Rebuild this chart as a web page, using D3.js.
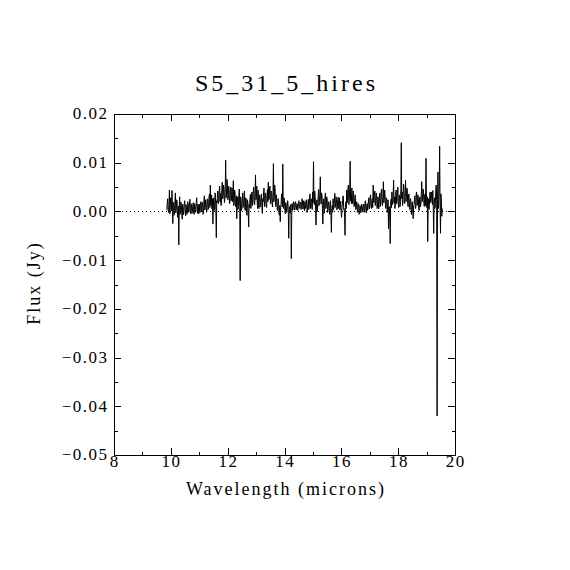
<!DOCTYPE html>
<html>
<head>
<meta charset="utf-8">
<script src="https://cdn.jsdelivr.net/npm/d3@7/dist/d3.min.js"></script>
<style>
  html, body { margin: 0; padding: 0; background: #fff; }
  svg { display: block; }
  text { font-family: "Liberation Serif", "DejaVu Serif", serif; fill: #000; }
</style>
</head>
<body>
<svg id="chart" width="570" height="570"></svg>
<script>
// ---- data ----
const titleText = "S5_31_5_hires";
const xLabel = "Wavelength (microns)";
const yLabel = "Flux (Jy)";
const xDomain = [8, 20];
const yDomain = [-0.05, 0.02];
const xTicks = [8, 10, 12, 14, 16, 18, 20];
const xMinorTicks = [9, 11, 13, 15, 17, 19];
const yTicks = [-0.05, -0.04, -0.03, -0.02, -0.01, 0.00, 0.01, 0.02];
const yMinorTicks = [-0.045, -0.035, -0.025, -0.015, -0.005, 0.005, 0.015];
const yTickLabels = ["\u22120.05", "\u22120.04", "\u22120.03", "\u22120.02", "\u22120.01", "0.00", "0.01", "0.02"];
// spectrum sampled on a uniform wavelength grid
const waveStart = 9.86;
const waveStep = 0.015;
// flux in mJy
const fluxMilliJy = [
  0.3, 1.8, 2.6, 0.4, -0.2, 1.2, 4.4, -0.5, 1.0, 2.8, 2.0, 0.1, 4.3, 0.6, -2.5, 1.9, 1.5, -0.8, 0.2, 2.1,
  3.8, -0.3, 0.5, 2.4, 2.0, -1.2, -0.8, 1.1, -6.9, 0.5, 3.0, -0.6, 0.2, 1.9, 1.2, -0.4, -1.6, 1.5, 1.0, -0.7,
  0.4, 1.7, 2.2, -0.1, -0.9, 1.4, 0.8, -0.6, -0.3, 2.0, 1.6, -0.2, 0.1, 1.3, 2.5, 0.0, -0.5, 1.6, 0.9, -0.4,
  0.0, 1.4, 1.8, -0.3, -0.6, 1.6, 1.1, -0.2, 0.3, 1.9, 2.8, 0.2, -0.4, 1.5, 0.7, -0.5, 1.5, 0.1, -0.2, 1.8,
  2.0, -0.1, 0.4, 1.9, 1.3, -0.6, -0.3, 2.2, 3.2, 0.3, 0.8, 2.4, 1.9, -0.2, 0.2, 2.6, 2.5, 0.4, 1.0, 3.0,
  3.6, 0.8, 5.4, 1.5, 1.2, 3.4, 0.5, 2.6, -2.6, 1.0, 2.8, 0.2, 0.9, 3.8, 3.4, 0.1, -5.4, 2.2, 1.8, 4.2,
  4.0, 1.6, 2.2, 4.6, 5.2, 2.0, 3.7, 1.2, 1.5, 4.4, 6.0, 2.6, 3.0, 5.4, 4.8, 1.8, 2.5, 5.0, 10.5, 2.8,
  3.5, 6.6, 5.8, 2.4, 2.8, 5.2, 4.5, 1.6, 1.9, 4.0, 5.0, 2.2, 3.2, 4.8, 2.0, 3.9, 6.3, 1.2, 1.8, 4.4,
  3.9, 1.4, 0.9, 3.2, -1.5, 2.0, 3.0, 0.4, 1.2, 3.6, 4.6, 1.0, -14.2, 3.0, 2.4, 0.2, 0.6, 2.8, 3.8, 0.8,
  1.0, 3.0, 4.2, 0.5, 0.2, 2.8, 2.6, -0.2, -0.8, 2.4, 1.9, -0.5, -3.2, 1.4, 0.8, 2.6, 3.5, 0.6, 1.5, 3.8,
  4.0, 1.2, 2.2, 4.4, 5.0, 1.8, 1.4, 3.6, 7.5, 2.4, 3.0, 5.2, 1.8, 0.6, 4.4, 2.0, 0.6, 3.4, 2.8, 0.9,
  1.2, 3.2, 3.6, 0.8, -0.4, 2.6, 2.0, 4.0, 4.8, 1.0, 1.5, 3.8, 3.2, 0.9, 0.8, 3.4, 4.5, 2.0, 6.0, 2.4,
  2.5, 4.8, 5.2, 1.6, 1.8, 4.2, 3.8, 1.4, 0.9, 3.6, 9.8, 2.0, 3.0, 5.4, 4.6, 1.0, 1.2, 3.4, 2.4, 0.2,
  0.4, 2.6, 2.0, -0.4, -0.8, 1.2, -2.1, 0.8, 1.5, 3.6, 3.2, 0.9, 9.7, 1.4, 0.6, 2.8, 2.2, 0.0, -0.5, 1.8,
  1.4, -0.2, 0.2, 2.2, 2.0, -0.6, -5.5, 0.8, 1.0, -0.4, 0.3, 1.5, -9.7, -0.8, 1.6, 0.2, 0.5, 2.0, 1.8, 0.3,
  0.8, 1.8, 2.0, 0.3, 0.4, 1.6, 1.5, 0.2, 0.9, 2.0, 2.2, 0.7, 0.6, 1.9, 1.7, 0.4, 1.0, 2.6, 2.4, 0.5,
  0.5, 2.2, 1.3, 0.1, 2.0, 0.6, 0.8, 2.4, 1.6, -0.2, 0.2, 1.8, 2.5, 0.4, 1.1, 3.0, 3.6, 0.6, 0.7, 2.6,
  2.2, 0.4, 4.0, 1.8, 10.2, 2.6, 1.4, 4.2, 3.0, 0.2, -2.8, 1.6, 2.4, 0.0, 1.0, 3.2, 4.5, 1.2, 2.0, 4.0,
  7.1, 2.2, 1.5, 3.8, 3.3, 0.6, -2.6, 1.4, 2.6, -0.4, 0.4, 2.8, 3.8, 0.6, 1.2, 3.0, 2.6, -0.2, 0.2, 2.0,
  1.8, 0.2, -0.6, 1.6, 2.2, -0.8, -4.3, 0.6, 1.2, -0.2, 2.6, 0.4, 0.8, 2.2, 3.7, 0.8, 1.6, 3.0, 2.4, 0.3,
  0.9, 2.4, 2.9, 0.6, 1.4, 2.8, 0.3, 1.6, 2.1, -0.4, -1.2, 1.0, 1.5, 3.2, 3.0, 0.4, 0.6, -1.0, -4.9, 0.8,
  2.0, 0.6, 4.4, 1.8, 3.0, 5.0, 5.4, 1.4, 2.4, 4.6, 10.3, 2.2, 3.5, 1.6, 4.8, 2.8, 1.6, 4.2, 3.9, 1.0,
  1.2, 2.8, 3.4, 0.4, 0.5, 2.0, 1.8, -0.2, 0.2, 1.6, 1.4, -0.6, -0.4, 1.2, 1.0, -0.3, 0.3, 1.5, 1.2, 0.1,
  0.0, 1.2, 1.5, -0.2, 0.4, 1.9, 2.2, 0.1, -0.3, 1.4, 1.6, 0.2, 0.8, 2.4, 2.8, 0.5, 1.2, 3.0, 3.4, 0.9,
  0.6, 2.2, 2.6, 0.8, 5.4, 2.4, 1.8, 4.0, 4.2, 1.2, 2.0, 3.8, 3.6, 0.6, 0.8, 3.0, 2.8, 0.5, 1.4, 3.6,
  3.8, 1.0, 2.0, 4.2, 4.6, 1.4, 1.2, 3.4, 6.1, 1.8, 2.4, 4.4, 3.2, 0.8, 0.6, 2.8, 2.2, -0.2, 0.9, 2.4,
  -3.5, 0.4, 1.0, -1.8, -6.6, 1.2, 2.5, 0.8, 4.0, 1.4, 1.6, 3.6, 6.4, 1.8, 3.0, 0.6, 1.2, 3.8, 4.4, 1.6,
  2.2, 4.2, 5.0, 1.4, 0.8, 3.0, 3.4, 1.0, 2.0, 4.6, 14.1, 2.6, 4.0, 1.2, 2.4, 5.6, 5.2, 1.8, 1.6, 4.0,
  6.4, 2.0, 2.8, 4.8, 4.6, 1.6, 1.0, 3.2, 3.6, 0.8, 0.4, 2.6, 2.6, 0.2, -0.6, 1.8, 2.0, -0.4, -1.5, 1.2,
  1.4, 2.8, 3.2, 0.6, 0.8, 3.6, 4.0, 1.2, 1.8, 3.4, 2.6, 0.4, 0.2, 2.8, 3.0, 0.9, 1.5, 3.6, 6.1, 2.0,
  2.4, 4.6, 4.2, 1.6, 1.0, 3.4, 3.6, 1.2, 10.9, 2.0, 0.8, 3.0, -6.2, 1.0, 2.6, 0.4, 1.4, 3.8, 4.0, 1.8,
  2.2, 4.0, 3.4, 1.4, 4.3, 0.8, -4.5, 1.6, 2.8, 0.6, 1.6, 4.6, 5.4, 2.2, -42.0, 2.4, 8.1, 0.6, 2.0, 4.8,
  13.4, 1.2, -4.5, 3.6, 2.2, -1.0, 0.6
];

// ---- layout ----
const plotLeft = 114, plotRight = 455, plotTop = 114, plotBottom = 455;
const majorLen = 7, minorLen = 3.5;

const svg = d3.select("#chart");
const x = d3.scaleLinear().domain(xDomain).range([plotLeft, plotRight]);
const y = d3.scaleLinear().domain(yDomain).range([plotBottom, plotTop]);

const points = fluxMilliJy.map((f, i) => ({ w: waveStart + i * waveStep, f: f / 1000 }));

// zero dotted line
svg.append("line")
  .attr("x1", x(xDomain[0])).attr("x2", x(xDomain[1]))
  .attr("y1", y(0)).attr("y2", y(0))
  .attr("stroke", "#000").attr("stroke-width", 1)
  .attr("stroke-dasharray", "1,3")
  .attr("shape-rendering", "crispEdges");

// spectrum
const line = d3.line().x(d => x(d.w)).y(d => y(d.f));
svg.append("path")
  .datum(points)
  .attr("d", line)
  .attr("fill", "none")
  .attr("stroke", "#000")
  .attr("stroke-width", 1)
  .attr("stroke-linejoin", "miter");

// axes (ticks inward on all four sides)
function axisGroup(axis, tx, ty) {
  const g = svg.append("g").attr("transform", `translate(${tx},${ty})`).call(axis);
  g.attr("shape-rendering", "crispEdges");
  g.selectAll("text").remove();
  g.selectAll("path.domain").attr("stroke", "#000").attr("stroke-width", 1);
  g.selectAll(".tick line").attr("stroke", "#000").attr("stroke-width", 1);
  return g;
}
axisGroup(d3.axisBottom(x).tickValues(xTicks).tickSize(-majorLen).tickSizeOuter(0), 0, plotBottom);
axisGroup(d3.axisBottom(x).tickValues(xMinorTicks).tickSize(-minorLen).tickSizeOuter(0), 0, plotBottom).select("path.domain").remove();
axisGroup(d3.axisTop(x).tickValues(xTicks).tickSize(-majorLen).tickSizeOuter(0), 0, plotTop);
axisGroup(d3.axisTop(x).tickValues(xMinorTicks).tickSize(-minorLen).tickSizeOuter(0), 0, plotTop).select("path.domain").remove();
axisGroup(d3.axisLeft(y).tickValues(yTicks).tickSize(-majorLen).tickSizeOuter(0), plotLeft, 0);
axisGroup(d3.axisLeft(y).tickValues(yMinorTicks).tickSize(-minorLen).tickSizeOuter(0), plotLeft, 0).select("path.domain").remove();
axisGroup(d3.axisRight(y).tickValues(yTicks).tickSize(-majorLen).tickSizeOuter(0), plotRight, 0);
axisGroup(d3.axisRight(y).tickValues(yMinorTicks).tickSize(-minorLen).tickSizeOuter(0), plotRight, 0).select("path.domain").remove();

// tick labels
const tickFont = 17, tickLS = 1.5;
svg.append("g").selectAll("text")
  .data(xTicks).join("text")
  .attr("x", d => x(d) + tickLS / 2)
  .attr("y", 467)
  .attr("text-anchor", "middle")
  .attr("font-size", tickFont)
  .attr("letter-spacing", tickLS)
  .text(d => String(d));

svg.append("g").selectAll("text")
  .data(yTicks).join("text")
  .attr("x", 108.5)
  .attr("y", d => y(d) + 5.4)
  .attr("text-anchor", "end")
  .attr("font-size", tickFont)
  .attr("letter-spacing", tickLS)
  .text((d, i) => yTickLabels[i]);

// titles
svg.append("text")
  .attr("x", 285 + 1.5).attr("y", 91)
  .attr("text-anchor", "middle")
  .attr("font-size", 24)
  .attr("letter-spacing", 3)
  .text(titleText);

svg.append("text")
  .attr("x", 285 + 1).attr("y", 495)
  .attr("text-anchor", "middle")
  .attr("font-size", 18)
  .attr("letter-spacing", 2)
  .text(xLabel);

svg.append("text")
  .attr("transform", "translate(40,283) rotate(-90)")
  .attr("text-anchor", "middle")
  .attr("font-size", 18)
  .attr("letter-spacing", 2)
  .text(yLabel);
</script>
</body>
</html>
